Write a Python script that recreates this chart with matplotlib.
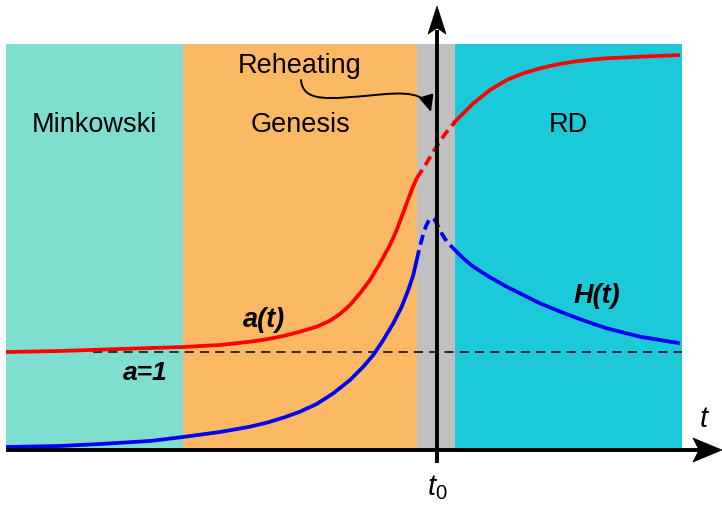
import matplotlib
matplotlib.use("Agg")
import matplotlib.pyplot as plt
from matplotlib.patches import Rectangle, Polygon, FancyArrowPatch
from matplotlib.path import Path

plt.rcParams['font.family'] = ['Liberation Sans', 'DejaVu Sans']
plt.rcParams['mathtext.fontset'] = 'custom'
plt.rcParams['mathtext.it'] = 'Liberation Sans:italic'
plt.rcParams['mathtext.rm'] = 'Liberation Sans'

# ---- phases (t boundaries) ----
phase_names = ["Minkowski", "Genesis", "", "RD"]
phase_edges = [6, 183, 417, 455, 682]
phase_colors = ["#80DED0", "#FBB964", "#C0C0C0", "#1BC9D8"]
phase_top = 461
phase_bottom = 57

# ---- a(t) scale factor ----
a_gen_t = [6, 60, 120, 183, 220, 250, 266.7, 283.3, 300, 316.7, 330, 340, 350, 360, 370,
           380, 390, 396.7, 401.7, 406.7, 411.7, 416.7]
a_gen_y = [153, 154, 156, 158, 160, 163.3, 165.7, 169, 173.3, 178.3, 184.3, 191, 200, 211.7, 225,
           241.7, 260, 275, 288.3, 301.7, 315, 326.7]
a_reh_t = [416.7, 426, 435, 445, 455]
a_reh_y = [326.7, 341, 356, 371, 383]
a_rd_t = [453.3, 463.3, 473.3, 490, 506.7, 523.3, 540, 556.7, 573.3, 590, 606.7, 640, 680]
a_rd_y = [381.7, 391.7, 401.7, 415, 425, 431.7, 436.7, 440.5, 443.3, 445.3, 446.7, 448.3, 450]

# ---- H(t) Hubble rate ----
h_gen_t = [6, 60, 100, 150, 183, 220, 250, 266.7, 283.3, 300, 316.7, 333.3, 350, 363.3, 373.3,
           383.3, 393.3, 401.7, 408.3, 413.3, 416.7]
h_gen_y = [58, 59, 61, 64, 68, 73, 78.3, 82.3, 87.3, 93.3, 101, 111.7, 125, 138.3, 150,
           165, 181.7, 198.3, 215, 230, 245]
h_reh_t = [416.7, 420, 423, 426, 429, 432, 435, 438, 442, 447, 453.3]
h_reh_y = [245, 259, 270, 279, 285, 287, 285, 279, 271, 263, 256.7]
h_rd_t = [453.3, 463.3, 473.3, 490, 506.7, 523.3, 540, 556.7, 573.3, 590, 606.7, 640, 680]
h_rd_y = [256.7, 246.7, 238.3, 227.7, 218.3, 210, 201.7, 194.8, 188.3, 182.3, 176.7, 168.3, 161.7]

a_one = 153
a_one_t = [93, 682]

fig = plt.figure(figsize=(7.22, 5.05), dpi=100)
ax = fig.add_axes([0, 0, 1, 1])
ax.set_xlim(0, 722)
ax.set_ylim(0, 505)
ax.axis('off')

for i, c in enumerate(phase_colors):
    ax.add_patch(Rectangle((phase_edges[i], phase_bottom), phase_edges[i + 1] - phase_edges[i],
                           phase_top - phase_bottom, facecolor=c, edgecolor='none', zorder=0))

# a = 1 dashed line
ax.plot(a_one_t, [a_one, a_one], color='black', lw=1.1, dashes=(6, 4), zorder=2)

red = '#FF0000'
blue = '#0000F0'
lw = 2.7
kw = dict(solid_capstyle='butt', solid_joinstyle='round', zorder=3)
ax.plot(a_gen_t, a_gen_y, color=red, lw=lw, **kw)
ax.plot(a_reh_t, a_reh_y, color=red, lw=lw, dashes=(2.7, 1.5), zorder=3)
ax.plot(a_rd_t, a_rd_y, color=red, lw=lw, **kw)
ax.plot(h_gen_t, h_gen_y, color=blue, lw=lw, **kw)
ax.plot(h_reh_t, h_reh_y, color=blue, lw=lw, dashes=(2.7, 1.5), zorder=3)
ax.plot(h_rd_t, h_rd_y, color=blue, lw=lw, **kw)

# axes with arrows
x0 = 437
y0 = 55
ax.plot([6, 700], [y0, y0], color='black', lw=2.8, zorder=5, solid_capstyle='butt')
ax.plot([x0, x0], [42, 475], color='black', lw=2.8, zorder=5, solid_capstyle='butt')
ax.add_patch(Polygon([[722, y0], [693, y0 + 12], [699, y0], [693, y0 - 12]],
                     closed=True, facecolor='black', edgecolor='black', lw=0.5, zorder=6))
ax.add_patch(Polygon([[x0, 499], [x0 - 9, 471], [x0, 477], [x0 + 9, 471]],
                     closed=True, facecolor='black', edgecolor='black', lw=0.5, zorder=6))

fs = 19.5
centers = [(phase_edges[i] + phase_edges[i + 1]) / 2 for i in range(4)]
for name, cx in zip(phase_names, centers):
    if name:
        ax.text(cx + (1 if name == "Genesis" else 0), 373, name, fontsize=fs, ha='center', va='baseline', zorder=4)

ax.text(300, 432, "Reheating", fontsize=fs, ha='center', va='baseline', zorder=4)

verts = [(301, 425), (303, 402), (330, 406), (375, 410),
         (405, 413), (425, 413), (431, 393)]
codes = [Path.MOVETO, Path.CURVE4, Path.CURVE4, Path.CURVE4, Path.CURVE4, Path.CURVE4, Path.CURVE4]
arr = FancyArrowPatch(path=Path(verts, codes), arrowstyle='-|>,head_length=10,head_width=4.5',
                      color='black', lw=1.4, zorder=6)
arr.set_mutation_scale(1.0)
ax.add_patch(arr)

ax.text(264, 178, "a(t)", fontsize=fs, fontweight='bold', fontstyle='italic', ha='center', va='baseline', zorder=4)
ax.text(145, 125, "a=1", fontsize=fs - 0.5, fontweight='bold', fontstyle='italic', ha='center', va='baseline', zorder=4)
ax.text(597, 202, "H(t)", fontsize=fs, fontweight='bold', fontstyle='italic', ha='center', va='baseline', zorder=4)
ax.text(704, 78, "t", fontsize=21, fontstyle='italic', ha='center', va='baseline', zorder=4)
ax.text(437, 10, r"$t_{\mathit{0}}$", fontsize=21, ha='center', va='baseline', zorder=4)

fig.savefig("out.png", dpi=100)
